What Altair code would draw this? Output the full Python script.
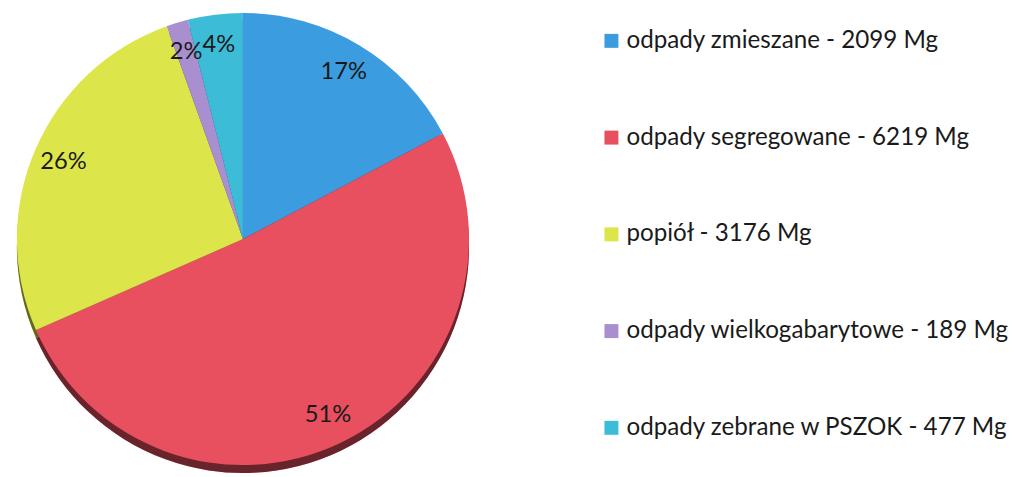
import altair as alt
import pandas as pd

categories = ["odpady zmieszane", "odpady segregowane", "popiół",
              "odpady wielkogabarytowe", "odpady zebrane w PSZOK"]
values = [2099, 6219, 3176, 189, 477]
colors = ["#3b9de0", "#e84f5f", "#dce64a", "#a98fd0", "#3dbcd8"]
unit = "Mg"

labels = [f"{c} - {v} {unit}" for c, v in zip(categories, values)]
df = pd.DataFrame({"label": labels, "value": values, "order": list(range(len(values)))})

R = 229
CX, CY = 238, 231

base = (
    alt.Chart(df)
    .transform_joinaggregate(total="sum(value)")
    .transform_calculate(pct="format(datum.value / datum.total, '.0%')")
    .encode(
        theta=alt.Theta("value:Q", stack=True),
        order=alt.Order("order:Q"),
        color=alt.Color(
            "label:N",
            scale=alt.Scale(domain=labels, range=colors),
            sort=labels,
            legend=alt.Legend(
                orient="none", legendX=599, legendY=18, title=None,
                symbolType="square", symbolSize=200, symbolStrokeWidth=0,
                labelFontSize=24.5, labelFont="Lato", labelColor="#1a1a1a",
                rowPadding=73, labelOffset=3, labelLimit=500,
            ),
        ),
    )
)

shadow = base.mark_arc(radius=R).encode(x=alt.value(CX), y=alt.value(CY + 8))
shadow_dark = base.mark_arc(radius=R).encode(
    x=alt.value(CX), y=alt.value(CY + 8),
    color=alt.value("#000000"), opacity=alt.value(0.55),
)
pie = base.mark_arc(radius=R).encode(x=alt.value(CX), y=alt.value(CY))
text = base.mark_text(radius=198, fontSize=24, font="Lato").encode(
    x=alt.value(CX), y=alt.value(CY), text="pct:N", color=alt.value("#1a1a1a")
)

chart = (
    alt.layer(shadow, shadow_dark, pie, text)
    .properties(width=476, height=456, padding=0, background="white")
    .configure_view(stroke=None)
)

chart.save("out.html", embed_options={"renderer": "svg", "actions": False})
